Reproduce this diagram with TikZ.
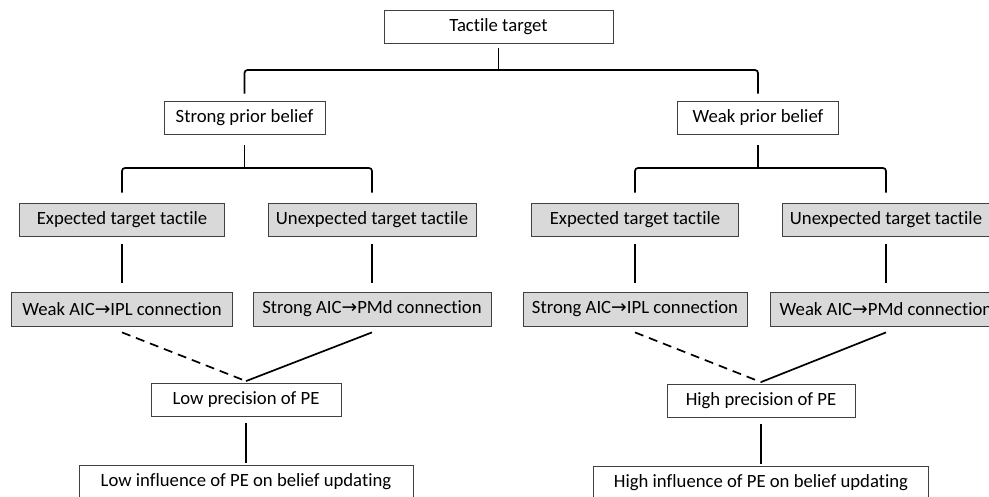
\documentclass[tikz,border=0pt]{standalone}
\usepackage{fontspec}
\setmainfont{Carlito}[Ligatures=NoCommon]
\newfontfamily\arrowfont{DejaVu Sans}
\usepackage{xcolor}
\colorlet{box_line}{black!75}
\colorlet{box_grey}{black!15}
\colorlet{link_line}{black}
\newcommand{\toarrow}{{\arrowfont\char"2192}}

\begin{document}
\begin{tikzpicture}[
    x=1pt, y=1pt,
    font=\fontsize{18.7}{22}\selectfont,
    box/.style={draw=box_line, line width=0.8pt, fill=white, minimum height=33pt, inner sep=0pt},
    grey-box/.style={box, fill=box_grey},
    link/.style={color=link_line, line width=1.7pt},
    bracket/.style={link, rounded corners=3pt},
    weak-link/.style={link, dash pattern=on 9pt off 6pt},
  ]
  \useasboundingbox (0,0) rectangle (989,496);
  \clip (0,0) rectangle (989,496);

  %%%%%%%%%% Levels %%%%%%%%%%
  \coordinate (bar-top) at (0,426);
  \coordinate (bar-mid) at (0,328);

  %%%%%%%%%% Top and prior belief %%%%%%%%%%
  \node[box, minimum width=229pt] (tactile) at (498.5,469.5) {Tactile target};
  \node[box, minimum width=161pt] (strong) at (244.5,378.5) {Strong prior belief};
  \node[box, minimum width=161pt] (weak) at (758,378.5) {Weak prior belief};

  %%%%%%%%%% Target tactile %%%%%%%%%%
  \node[grey-box, minimum width=205pt] (l-exp) at (122,276.5) {Expected target tactile};
  \node[grey-box, minimum width=208pt] (l-unexp) at (372,276.5) {Unexpected target tactile};
  \node[grey-box, minimum width=207pt] (r-exp) at (635,276.5) {Expected target tactile};
  \node[grey-box, minimum width=208pt] (r-unexp) at (886,276.5) {Unexpected target tactile};

  %%%%%%%%%% Connections %%%%%%%%%%
  \node[grey-box, minimum width=221pt, minimum height=34pt] (l-ipl) at (122,187) {Weak AIC\toarrow IPL connection};
  \node[grey-box, minimum width=238pt, minimum height=34pt] (l-pmd) at (372,187) {Strong AIC\toarrow PMd connection};
  \node[grey-box, minimum width=224pt, minimum height=34pt] (r-ipl) at (635,187) {Strong AIC\toarrow IPL connection};
  \node[grey-box, minimum width=232pt, minimum height=34pt] (r-pmd) at (886,187) {Weak AIC\toarrow PMd connection};

  %%%%%%%%%% Precision and influence %%%%%%%%%%
  \node[box, minimum width=190pt] (low-prec) at (246,96) {Low precision of PE};
  \node[box, minimum width=188pt] (high-prec) at (761,95) {High precision of PE};
  \node[box, minimum width=334pt, minimum height=34pt] (low-inf) at (246,14) {Low influence of PE on belief updating};
  \node[box, minimum width=335pt, minimum height=34pt] (high-inf) at (761,13) {High influence of PE on belief updating};

  %%%%%%%%%% Brackets %%%%%%%%%%
  \draw[link] ([yshift=-5pt]tactile.south) -- (tactile.south |- bar-top);
  \draw[bracket] ([yshift=7pt]strong.north) |- (tactile.south |- bar-top) -| ([yshift=7pt]weak.north);

  \foreach \prior/\expd/\unexpd in {strong/l-exp/l-unexp, weak/r-exp/r-unexp} {
    \draw[link] ([yshift=-11pt]\prior.south) -- (\prior.south |- bar-mid);
    \draw[bracket] ([yshift=10pt]\expd.north) |- (\prior.south |- bar-mid) -| ([yshift=10pt]\unexpd.north);
  }

  %%%%%%%%%% Links %%%%%%%%%%
  \foreach \upper/\lower in {l-exp/l-ipl, l-unexp/l-pmd, r-exp/r-ipl, r-unexp/r-pmd} {
    \draw[link] ([yshift=-8pt]\upper.south) -- ([yshift=9pt]\lower.north);
  }
  \foreach \ipl/\pmd/\prec/\inf in {l-ipl/l-pmd/low-prec/low-inf, r-ipl/r-pmd/high-prec/high-inf} {
    \draw[weak-link] ([yshift=-6pt]\ipl.south) -- ([yshift=2pt]\prec.north);
    \draw[link] ([yshift=-6pt]\pmd.south) -- ([yshift=2pt]\prec.north);
    \draw[link] ([yshift=-6pt]\prec.south) -- ([yshift=2pt]\inf.north);
  }

\end{tikzpicture}
\end{document}
